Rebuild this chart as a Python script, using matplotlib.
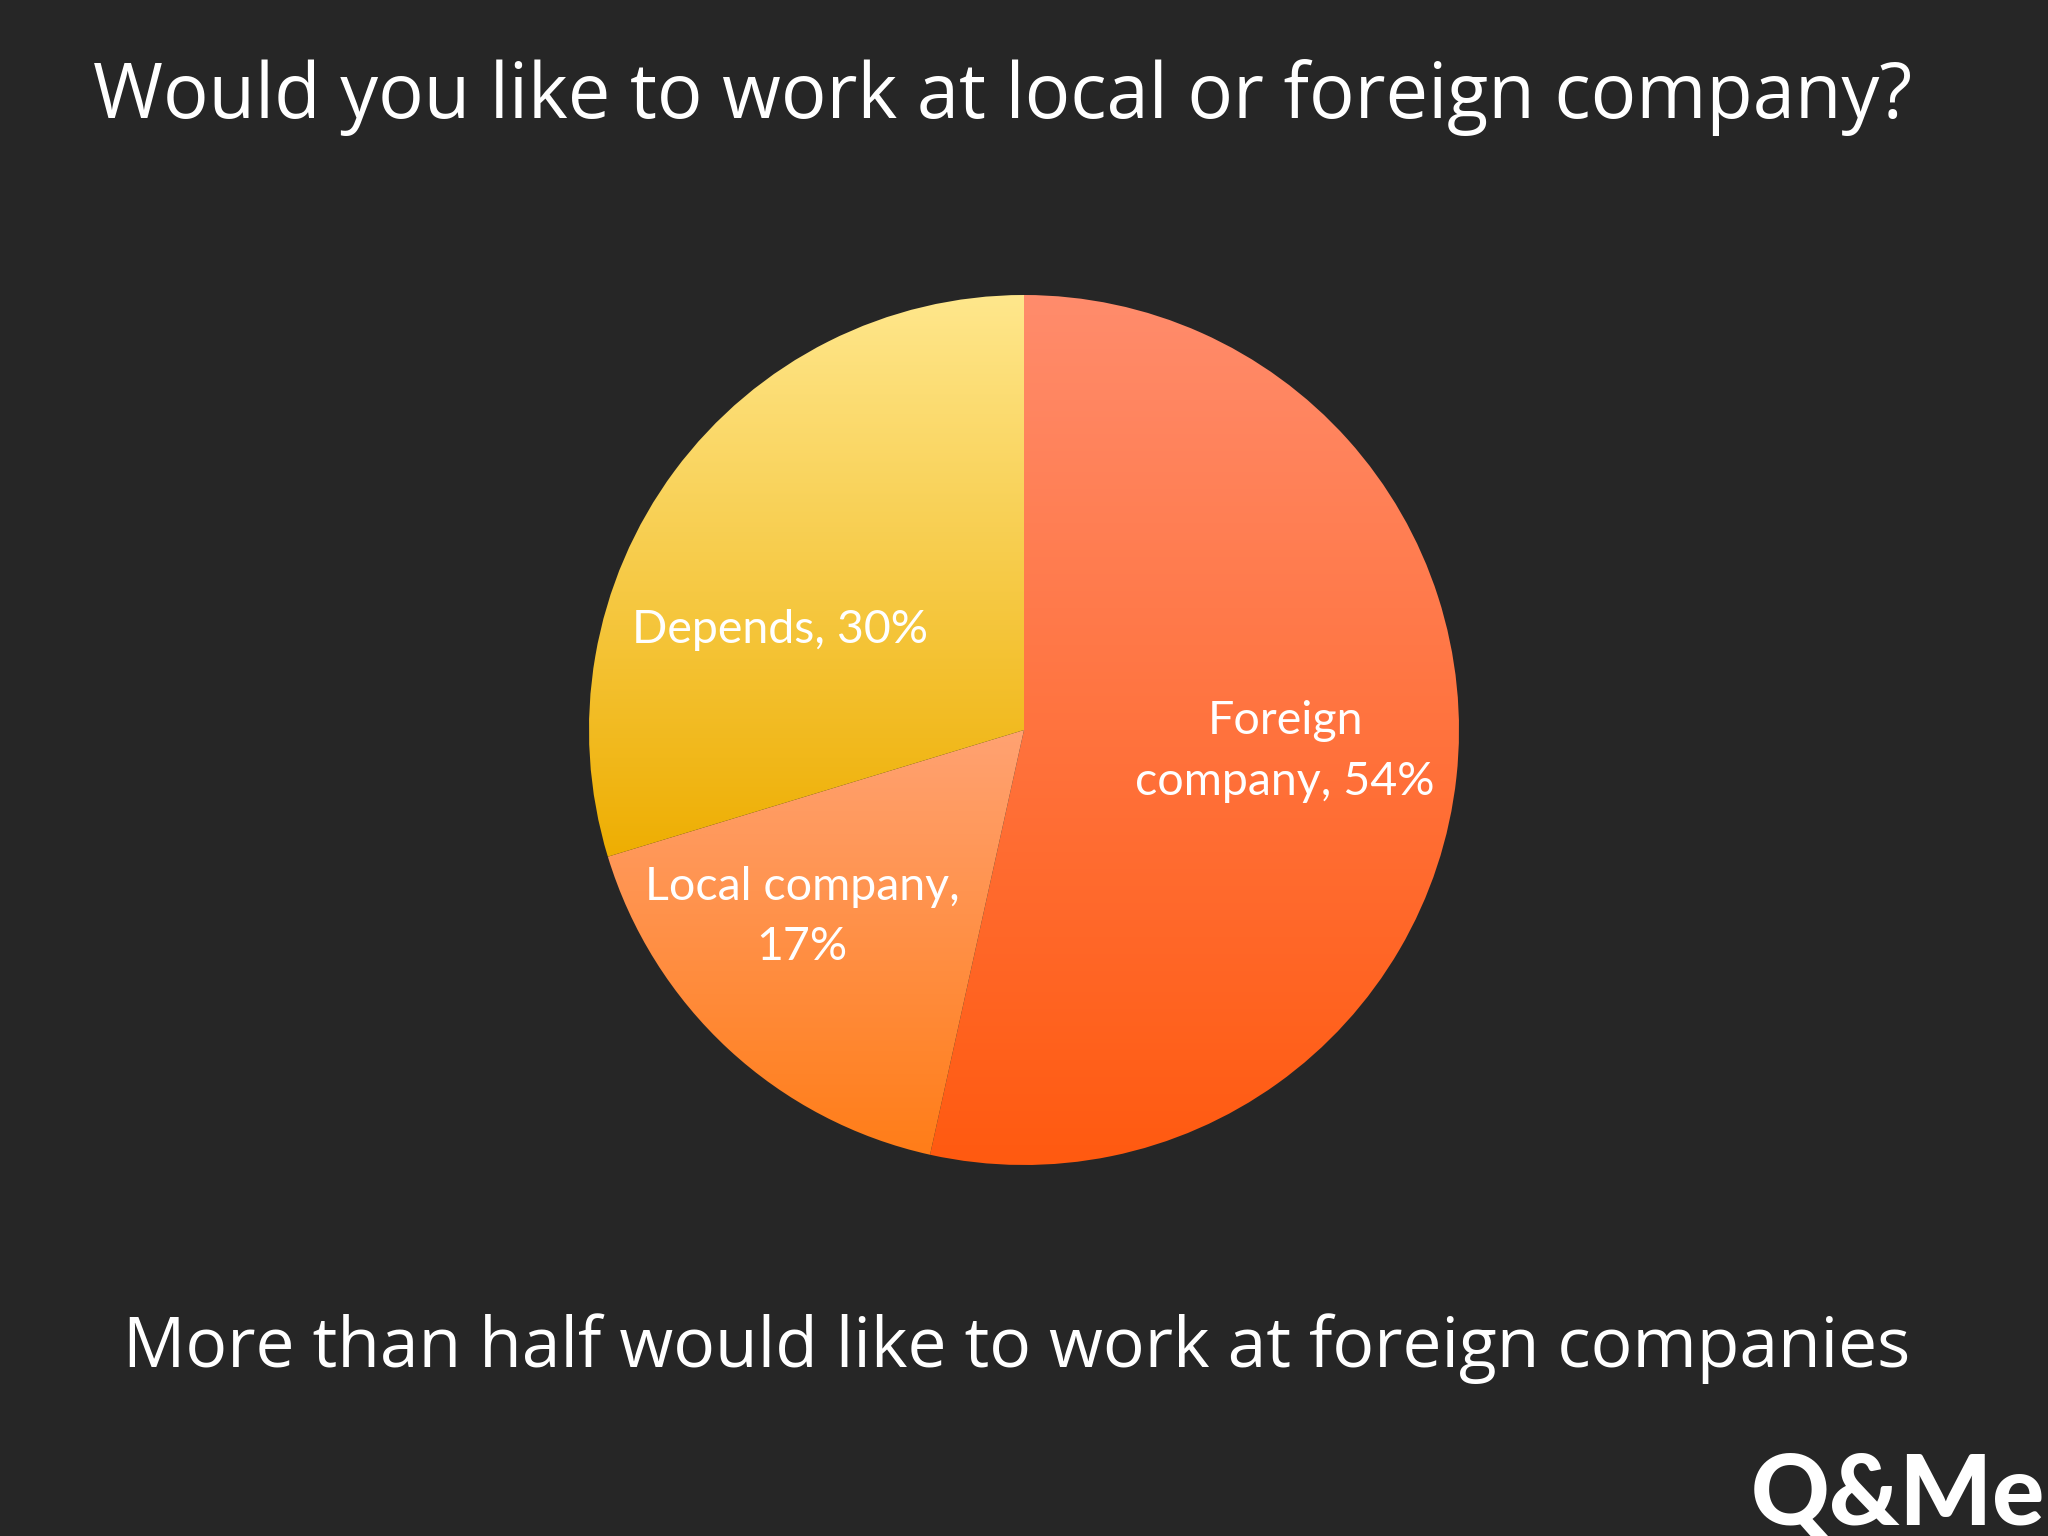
import numpy as np
import matplotlib
matplotlib.use('Agg')
import matplotlib.pyplot as plt
from matplotlib.colors import LinearSegmentedColormap

# survey answers (% of respondents)
categories = ["Foreign company", "Local company", "Depends"]
shares = [54, 17, 30]
label_text = ["Foreign\ncompany, 54%", "Local company,\n17%", "Depends, 30%"]
# vertical gradient per slice: (top colour, bottom colour)
grad_colors = [("#FF8C6C", "#FF5A10"), ("#FFA272", "#FF7D18"), ("#FFE78C", "#EEAE02")]

bg = "#262626"
title = "Would you like to work at local or foreign company?"
subtitle = "More than half would like to work at foreign companies"

fig = plt.figure(figsize=(20.48, 15.36), dpi=100, facecolor=bg)

# pie axes: centre ~ (1024, 730) px, radius ~435 px
ax = fig.add_axes([589 / 2048, 371 / 1536, 870 / 2048, 870 / 1536])
ax.set_facecolor(bg)
wedges, texts = ax.pie(shares, startangle=90, counterclock=False, radius=1,
                       labels=label_text, labeldistance=0.6,
                       textprops=dict(color="white", fontsize=33.5, family="Lato",
                                      ha="center", va="center", linespacing=1.55))

# fill each wedge with its own vertical gradient
for w, (c_top, c_bot) in zip(wedges, grad_colors):
    ext = w.get_path().get_extents()
    cmap = LinearSegmentedColormap.from_list("g", [c_bot, c_top])
    grad = np.linspace(0, 1, 256).reshape(-1, 1)
    im = ax.imshow(grad, cmap=cmap, aspect="auto", origin="lower",
                   extent=[ext.x0, ext.x1, ext.y0, ext.y1], zorder=1)
    im.set_clip_path(w)
    w.set_facecolor("none")
    w.set_edgecolor("none")

# nudge labels to where the original puts them
texts[0].set_position((0.60, -0.05))
texts[1].set_position((-0.51, -0.43))
texts[2].set_position((-0.56, 0.23))
for t in texts:
    t.set_zorder(5)
    t.set_ha("center")

ax.set_xlim(-1.0, 1.0)
ax.set_ylim(-1.0, 1.0)
ax.set_aspect("equal")
ax.axis("off")

fig.text(0.4895, 1 - 98 / 1536, title, color="white", fontsize=54.5,
         family="Open Sans", ha="center", va="center")
fig.text(0.4962, 1 - 1349 / 1536, subtitle, color="white", fontsize=50,
         family="Open Sans", ha="center", va="center")

# Q&Me logo, bottom right
fig.text(2045 / 2048, 12 / 1536, "Q&Me", color="white", fontsize=70, family="Lato",
         fontweight="black", ha="right", va="baseline")

fig.savefig("out.png", dpi=100, facecolor=bg)
